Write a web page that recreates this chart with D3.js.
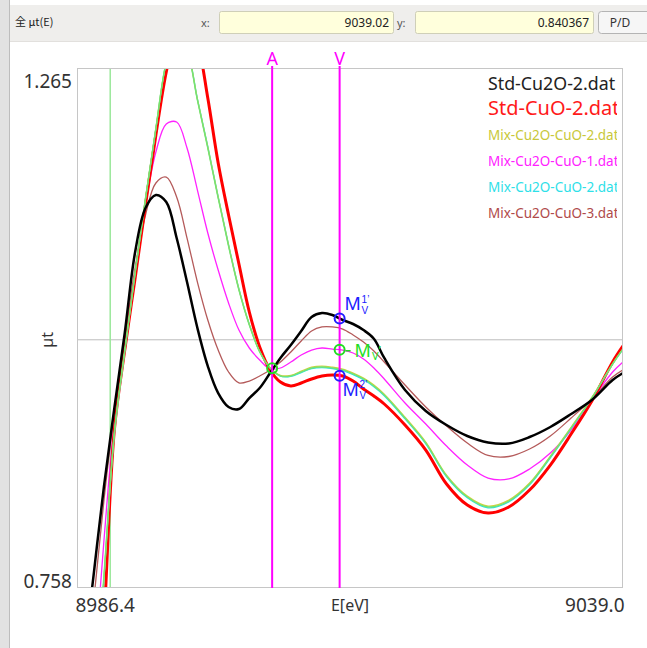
<!DOCTYPE html>
<html>
<head>
<meta charset="utf-8">
<script src="https://cdn.jsdelivr.net/npm/d3@7"></script>
<style>
body { margin: 0; background: #fff; }
svg { display: block; font-family: "Noto Sans", "Liberation Sans", Arial, sans-serif; }
</style>
</head>
<body>
<svg id="chart" width="647" height="648"></svg>
<script>
// energies (eV) shared by every spectrum
const energies = [8987, 8988, 8989, 8990, 8991, 8992, 8993, 8994, 8995, 8996,
  8997, 8998, 8999, 9000, 9001, 9002, 9003, 9004, 9005, 9006,
  9007, 9008, 9009, 9010, 9011, 9012, 9013, 9014, 9015, 9016,
  9018, 9020, 9022, 9024, 9026, 9028, 9030, 9032, 9034, 9036, 9038, 9039];

// mu t values
const stdCu2O = [0.6829, 0.7706, 0.8574, 0.9335, 1.0066, 1.0856, 1.1285, 1.1412, 1.1343, 1.0992,
  1.0563, 1.0115, 0.9744, 0.9481, 0.9345, 0.9325, 0.9432, 0.953, 0.9676, 0.9823,
  0.995, 1.0086, 1.0222, 1.0261, 1.0242, 1.0193, 1.0154, 1.0095, 1.001, 0.9823,
  0.951, 0.9306, 0.9169, 0.9062, 0.8999, 0.8989, 0.9052, 0.915, 0.9276, 0.9413, 0.9608, 0.9676];
const stdCuO = [0.40, 0.555, 0.725, 0.9121, 0.99, 1.0602, 1.1314, 1.1997, 1.2611, 1.302,
  1.3137, 1.2904, 1.2357, 1.1724, 1.1217, 1.0739, 1.0271, 0.993, 0.9706, 0.9588,
  0.955, 0.9579, 0.9618, 0.9647, 0.9657, 0.9647, 0.9598, 0.952, 0.9452, 0.9374,
  0.9169, 0.8925, 0.8594, 0.8389, 0.8311, 0.837, 0.8535, 0.8779, 0.9081, 0.9403, 0.9784, 0.994];
const mix2a = [0.481, 0.627, 0.768, 0.9085, 0.989, 1.0655, 1.1378, 1.2062, 1.2705, 1.2998,
  1.2832, 1.2345, 1.1878, 1.139, 1.0922, 1.0492, 1.015, 0.9886, 0.9728, 0.9652,
  0.9654, 0.9694, 0.9733, 0.9743, 0.9733, 0.9714, 0.9675, 0.9626, 0.9558, 0.947,
  0.9245, 0.9002, 0.868, 0.8476, 0.8379, 0.8437, 0.8603, 0.8865, 0.9147, 0.9438, 0.9766, 0.9912];
const mix1 = [0.52, 0.6725, 0.8048, 0.9208, 0.9951, 1.0661, 1.1314, 1.1831, 1.2104, 1.2123,
  1.187, 1.146, 1.1041, 1.068, 1.0359, 1.0095, 0.992, 0.9803, 0.9715, 0.9725,
  0.9783, 0.9852, 0.99, 0.992, 0.991, 0.99, 0.9871, 0.9813, 0.9725, 0.9618,
  0.9384, 0.9179, 0.8964, 0.8779, 0.8652, 0.8643, 0.874, 0.8896, 0.912, 0.9413, 0.9686, 0.9784];
const mix2b = [0.480, 0.626, 0.767, 0.908, 0.9885, 1.065, 1.1372, 1.2058, 1.2702, 1.2995,
  1.2835, 1.235, 1.1885, 1.1396, 1.0928, 1.0496, 1.0152, 0.9886, 0.9726, 0.9645,
  0.9643, 0.968, 0.972, 0.9729, 0.972, 0.97, 0.966, 0.961, 0.9543, 0.9455,
  0.9229, 0.8986, 0.8664, 0.846, 0.8362, 0.842, 0.8586, 0.885, 0.9134, 0.943, 0.9763, 0.9908];
const mix3 = [0.6488, 0.7443, 0.8438, 0.9296, 1.002, 1.07, 1.1217, 1.1529, 1.1587, 1.1392,
  1.0992, 1.0563, 1.0193, 0.99, 0.9686, 0.9579, 0.9598, 0.9647, 0.9706, 0.9783,
  0.9881, 0.9988, 1.0086, 1.0125, 1.0125, 1.0105, 1.0047, 0.9978, 0.9891, 0.9783,
  0.9559, 0.9345, 0.9159, 0.8993, 0.8872, 0.8862, 0.8935, 0.9062, 0.9237, 0.9423, 0.9637, 0.9706];
// fitted curve (green, not in legend)
const fitCurve = [0.483, 0.6293, 0.7707, 0.9101, 0.99, 1.0661, 1.1382, 1.2065, 1.2709, 1.3001,
  1.2826, 1.2338, 1.187, 1.1382, 1.0914, 1.0485, 1.0144, 0.9881, 0.9725, 0.9647,
  0.9647, 0.9686, 0.9725, 0.9735, 0.9725, 0.9706, 0.9667, 0.9618, 0.955, 0.9462,
  0.9237, 0.8994, 0.8672, 0.8467, 0.837, 0.8428, 0.8594, 0.8857, 0.914, 0.9433, 0.9764, 0.991];

const legendNames = ["Std-Cu2O-2.dat", "Std-CuO-2.dat", "Mix-Cu2O-CuO-2.dat",
  "Mix-Cu2O-CuO-1.dat", "Mix-Cu2O-CuO-2.dat", "Mix-Cu2O-CuO-3.dat"];

const xDomain = [8986.4, 9039.0];
const yDomain = [0.758, 1.265];
const markerA = 9005.2;
const markerV = 9011.7;
const cursorE = 8989.6;
const cursorMu = 1.0;
const readoutX = "9039.02";
const readoutY = "0.840367";

// ---------------------------------------------------------------
const svg = d3.select("#chart");
const pLeft = 77, pRight = 623, pTop = 68, pBottom = 588;

const x = d3.scaleLinear().domain(xDomain).range([pLeft, pRight]);
const y = d3.scaleLinear().domain(yDomain).range([pBottom, pTop]);

// window chrome
svg.append("rect").attr("x", 0).attr("y", 0).attr("width", 647).attr("height", 648).attr("fill", "#fff");
svg.append("rect").attr("x", 0).attr("y", 0).attr("width", 9).attr("height", 648).attr("fill", "#e2e2e2");
svg.append("line").attr("x1", 9.5).attr("x2", 9.5).attr("y1", 0).attr("y2", 648).attr("stroke", "#bdbdbd");
svg.append("rect").attr("x", 10).attr("y", 5).attr("width", 637).attr("height", 36).attr("fill", "#efeeec");
svg.append("line").attr("x1", 10).attr("x2", 647).attr("y1", 41.5).attr("y2", 41.5).attr("stroke", "#e2e0dd");

svg.append("text").attr("x", 15).attr("y", 26).attr("font-size", 11).attr("fill", "#222")
  .attr("font-family", "'Noto Sans CJK JP', 'Noto Sans', sans-serif").text("全 µt(E)");

function readBox(lbl, lx, bx, bw, val) {
  svg.append("text").attr("x", lx).attr("y", 27).attr("font-size", 11).attr("fill", "#555").text(lbl);
  svg.append("rect").attr("x", bx + 0.5).attr("y", 11.5).attr("width", bw).attr("height", 22).attr("rx", 2)
    .attr("fill", "#ffffdc").attr("stroke", "#cfcfb8");
  svg.append("text").attr("x", bx + bw - 4).attr("y", 27).attr("text-anchor", "end")
    .attr("font-size", 12).attr("fill", "#222").text(val);
}
readBox("x:", 201, 219, 174, readoutX);
readBox("y:", 397, 415, 178, readoutY);
svg.append("rect").attr("x", 598.5).attr("y", 11.5).attr("width", 52).attr("height", 22).attr("rx", 3)
  .attr("fill", "#f6f6f6").attr("stroke", "#b4b4b4");
svg.append("text").attr("x", 620).attr("y", 27).attr("text-anchor", "middle").attr("font-size", 12)
  .attr("fill", "#333").text("P/D");

// plot frame
svg.append("rect").attr("x", pLeft + 0.5).attr("y", pTop + 0.5).attr("width", pRight - pLeft - 1).attr("height", pBottom - pTop - 1)
  .attr("fill", "none").attr("stroke", "#c6c6c6");

svg.append("defs").call(d => {
  d.append("clipPath").attr("id", "plotClip").append("rect")
    .attr("x", pLeft + 1).attr("y", pTop + 1).attr("width", pRight - pLeft - 2).attr("height", pBottom - pTop - 2);
  d.append("clipPath").attr("id", "legClip").append("rect")
    .attr("x", pLeft).attr("y", pTop).attr("width", 617 - pLeft).attr("height", pBottom - pTop);
});

// axes (labels only at the domain ends)
const xAxis = svg.append("g").attr("transform", `translate(0,${pBottom})`)
  .call(d3.axisBottom(x).tickValues(xDomain).tickSize(0).tickPadding(0).tickFormat(d3.format(".1f")));
xAxis.select(".domain").remove();
xAxis.selectAll("text").attr("font-size", 19).attr("fill", "#333").attr("dy", "1.27em")
  .attr("font-family", "'Noto Sans', sans-serif")
  .attr("text-anchor", (d, i) => i === 0 ? "start" : "end")
  .attr("dx", (d, i) => i === 0 ? -2 : 1);

const yAxis = svg.append("g").attr("transform", `translate(${pLeft},0)`)
  .call(d3.axisLeft(y).tickValues(yDomain).tickSize(0).tickPadding(5).tickFormat(d3.format(".3f")));
yAxis.select(".domain").remove();
yAxis.selectAll("text").attr("font-size", 19).attr("fill", "#333")
  .attr("font-family", "'Noto Sans', sans-serif")
  .attr("dy", d => d === yDomain[1] ? "1.0em" : "-0.05em");

svg.append("text").attr("x", (pLeft + pRight) / 2).attr("y", 611).attr("text-anchor", "middle")
  .attr("font-size", 16).attr("fill", "#333").text("E[eV]");
svg.append("text").attr("transform", `translate(53,${y(1.0)}) rotate(-90)`).attr("text-anchor", "middle")
  .attr("font-size", 16).attr("fill", "#333").text("µt");

const plot = svg.append("g").attr("clip-path", "url(#plotClip)");

// cursor cross
plot.append("line").attr("x1", pLeft).attr("x2", pRight).attr("y1", y(cursorMu)).attr("y2", y(cursorMu))
  .attr("stroke", "#bdbdbd").attr("stroke-width", 1);
plot.append("line").attr("x1", x(cursorE)).attr("x2", x(cursorE)).attr("y1", pTop).attr("y2", pBottom)
  .attr("stroke", "#9be89b").attr("stroke-width", 1.5);

// spectra
const series = [
  { vals: mix3, color: "#b45a5a", w: 1.3 },
  { vals: mix1, color: "#ff22ff", w: 1.3 },
  { vals: stdCuO, color: "#ff0000", w: 3 },
  { vals: mix2b, color: "#22e4ec", w: 1.3 },
  { vals: mix2a, color: "#d2d23c", w: 1.3 },
  { vals: fitCurve, color: "#74e274", w: 1.4 },
  { vals: stdCu2O, color: "#000000", w: 2.5 }
];
const line = d3.line().x((d, i) => x(energies[i])).y(d => y(d)).curve(d3.curveCatmullRom.alpha(0.5));
plot.selectAll("path.spec").data(series).join("path").attr("class", "spec")
  .attr("d", s => line(s.vals)).attr("fill", "none")
  .attr("stroke", s => s.color).attr("stroke-width", s => s.w).attr("stroke-linejoin", "round");

// A and V energy markers
[[markerA, "A"], [markerV, "V"]].forEach(([e, lbl]) => {
  svg.append("line").attr("x1", x(e)).attr("x2", x(e)).attr("y1", 66).attr("y2", pBottom)
    .attr("stroke", "#ff00ff").attr("stroke-width", 2);
  svg.append("text").attr("x", x(e)).attr("y", 65).attr("text-anchor", "middle")
    .attr("font-size", 18).attr("fill", "#ff00ff").text(lbl);
});

function valueAt(vals, e) {
  const i = d3.bisectLeft(energies, e);
  const t = (e - energies[i - 1]) / (energies[i] - energies[i - 1]);
  return vals[i - 1] + t * (vals[i] - vals[i - 1]);
}

function marker(e, v, color) {
  svg.append("circle").attr("cx", x(e)).attr("cy", y(v)).attr("r", 5)
    .attr("fill", "none").attr("stroke", color).attr("stroke-width", 2);
}
const vx = x(markerV);
const m1 = y(valueAt(stdCu2O, markerV));
const mg = y(valueAt(mix1, markerV));
const m2 = y(valueAt(stdCuO, markerV));
marker(markerA, valueAt(mix3, markerA), "#22dd22");
marker(markerV, valueAt(stdCu2O, markerV), "#2020ff");
marker(markerV, valueAt(mix1, markerV), "#22dd22");
marker(markerV, valueAt(stdCuO, markerV), "#2020ff");

// "M" with subscript V and superscript index
function mLabel(px, py, sup, color) {
  const t = svg.append("text").attr("x", px).attr("y", py).attr("fill", color);
  t.append("tspan").attr("font-size", 18).text("M");
  const sx = px + 17;
  if (sup) {
    svg.append("text").attr("x", sx).attr("y", py - 7.5).attr("font-size", 10).attr("fill", color)
      .attr("font-family", "'Liberation Sans', Arial, sans-serif").text(sup);
    svg.append("text").attr("x", sx).attr("y", py + 3.5).attr("font-size", 10).attr("fill", color)
      .attr("font-family", "'Liberation Sans', Arial, sans-serif").text("V");
  } else {
    t.append("tspan").attr("font-size", 11).attr("dy", 3).attr("dx", 1).text("V");
    t.append("tspan").attr("font-size", 13).attr("dy", -5).text("’");
  }
}
mLabel(vx + 5, m1 - 8, "1’", "#2020ff");
svg.append("line").attr("x1", vx + 6).attr("x2", vx + 11).attr("y1", mg + 1).attr("y2", mg + 1)
  .attr("stroke", "#22dd22").attr("stroke-width", 1.5);
mLabel(vx + 15, mg + 7, null, "#22dd22");
mLabel(vx + 3, m2 + 20, "2’", "#2020ff");

// legend (clipped at the right like the original)
const legend = svg.append("g").attr("clip-path", "url(#legClip)");
const legColors = ["#222222", "#ff1a1a", "#c8c83a", "#ff22ff", "#2ee0e8", "#b04a4a"];
const legSizes = [17.8, 20, 13.5, 13.5, 13.5, 13.5];
const legY = [90, 115, 140, 166, 192, 218];
legendNames.forEach((n, i) => {
  legend.append("text").attr("x", 488).attr("y", legY[i]).attr("font-size", legSizes[i])
    .attr("fill", legColors[i]).text(n);
});
</script>
</body>
</html>
